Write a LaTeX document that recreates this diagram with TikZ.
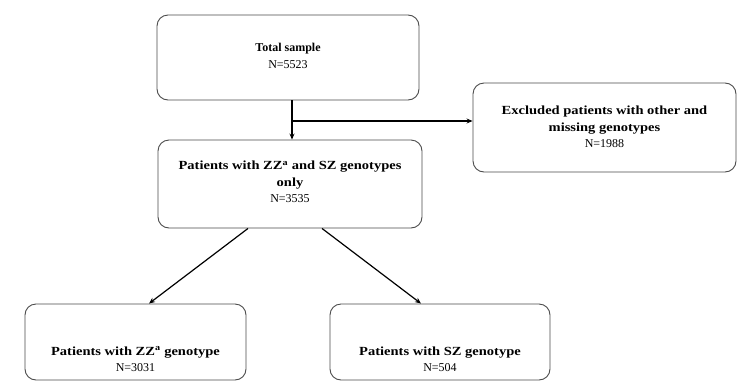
\documentclass[tikz,border=0pt]{standalone}
\usepackage{fontspec}
\setmainfont{Liberation Serif}
\newfontfamily\widebold{Liberation Serif}[FakeStretch=1.17,UprightFont={* Bold}]
\usetikzlibrary{arrows.meta,calc}
\newcommand{\bigb}[1]{{\fontsize{12.4}{16.5}\selectfont\widebold #1}}
\begin{document}
\begin{tikzpicture}[x=1pt,y=-1pt,
  boxst/.style={draw=black!70,line width=0.9pt,rounded corners=11pt,inner sep=0pt},
  txt/.style={align=center,font=\fontsize{12}{16.5}\selectfont},
  arr/.style={line width=1.2pt,-{Stealth[length=6pt,width=5pt]}}]
\useasboundingbox[fill=white] (0,0) rectangle (739,381);
\node[boxst,minimum width=262pt,minimum height=85pt] (top) at (288,57.5) {};
\node[txt] (toptxt) at (288,56) {\textbf{Total sample}\\N=5523};
\node[boxst,minimum width=264pt,minimum height=88pt] (mid) at (290,184) {};
\node[txt] (midtxt) at (290,182) {\bigb{Patients with ZZ\textsuperscript{a} and SZ genotypes}\\\bigb{only}\\N=3535};
\node[boxst,minimum width=263pt,minimum height=89pt] (excl) at (604.5,127.5) {};
\node[txt] (excltxt) at (604.5,127) {\bigb{Excluded patients with other and}\\\bigb{missing genotypes}\\N=1988};
\node[boxst,minimum width=221pt,minimum height=76pt] (zz) at (135.5,342) {};
\node[txt] (zztxt) at (135.5,359) {\bigb{Patients with ZZ\textsuperscript{a} genotype}\\N=3031};
\node[boxst,minimum width=220pt,minimum height=76pt] (sz) at (440,342) {};
\node[txt] (sztxt) at (440,359) {\bigb{Patients with SZ genotype}\\N=504};
\coordinate (branch) at (292,121);
\draw[arr] ([xshift=4pt]top.south) -- ([xshift=2pt]mid.north);
\draw[arr] (branch) -- (branch -| excl.west);
\draw[arr] ([xshift=-42pt]mid.south) -- ([xshift=13.5pt]zz.north);
\draw[arr] ([xshift=32pt]mid.south) -- ([xshift=-19pt]sz.north);
\end{tikzpicture}
\end{document}
